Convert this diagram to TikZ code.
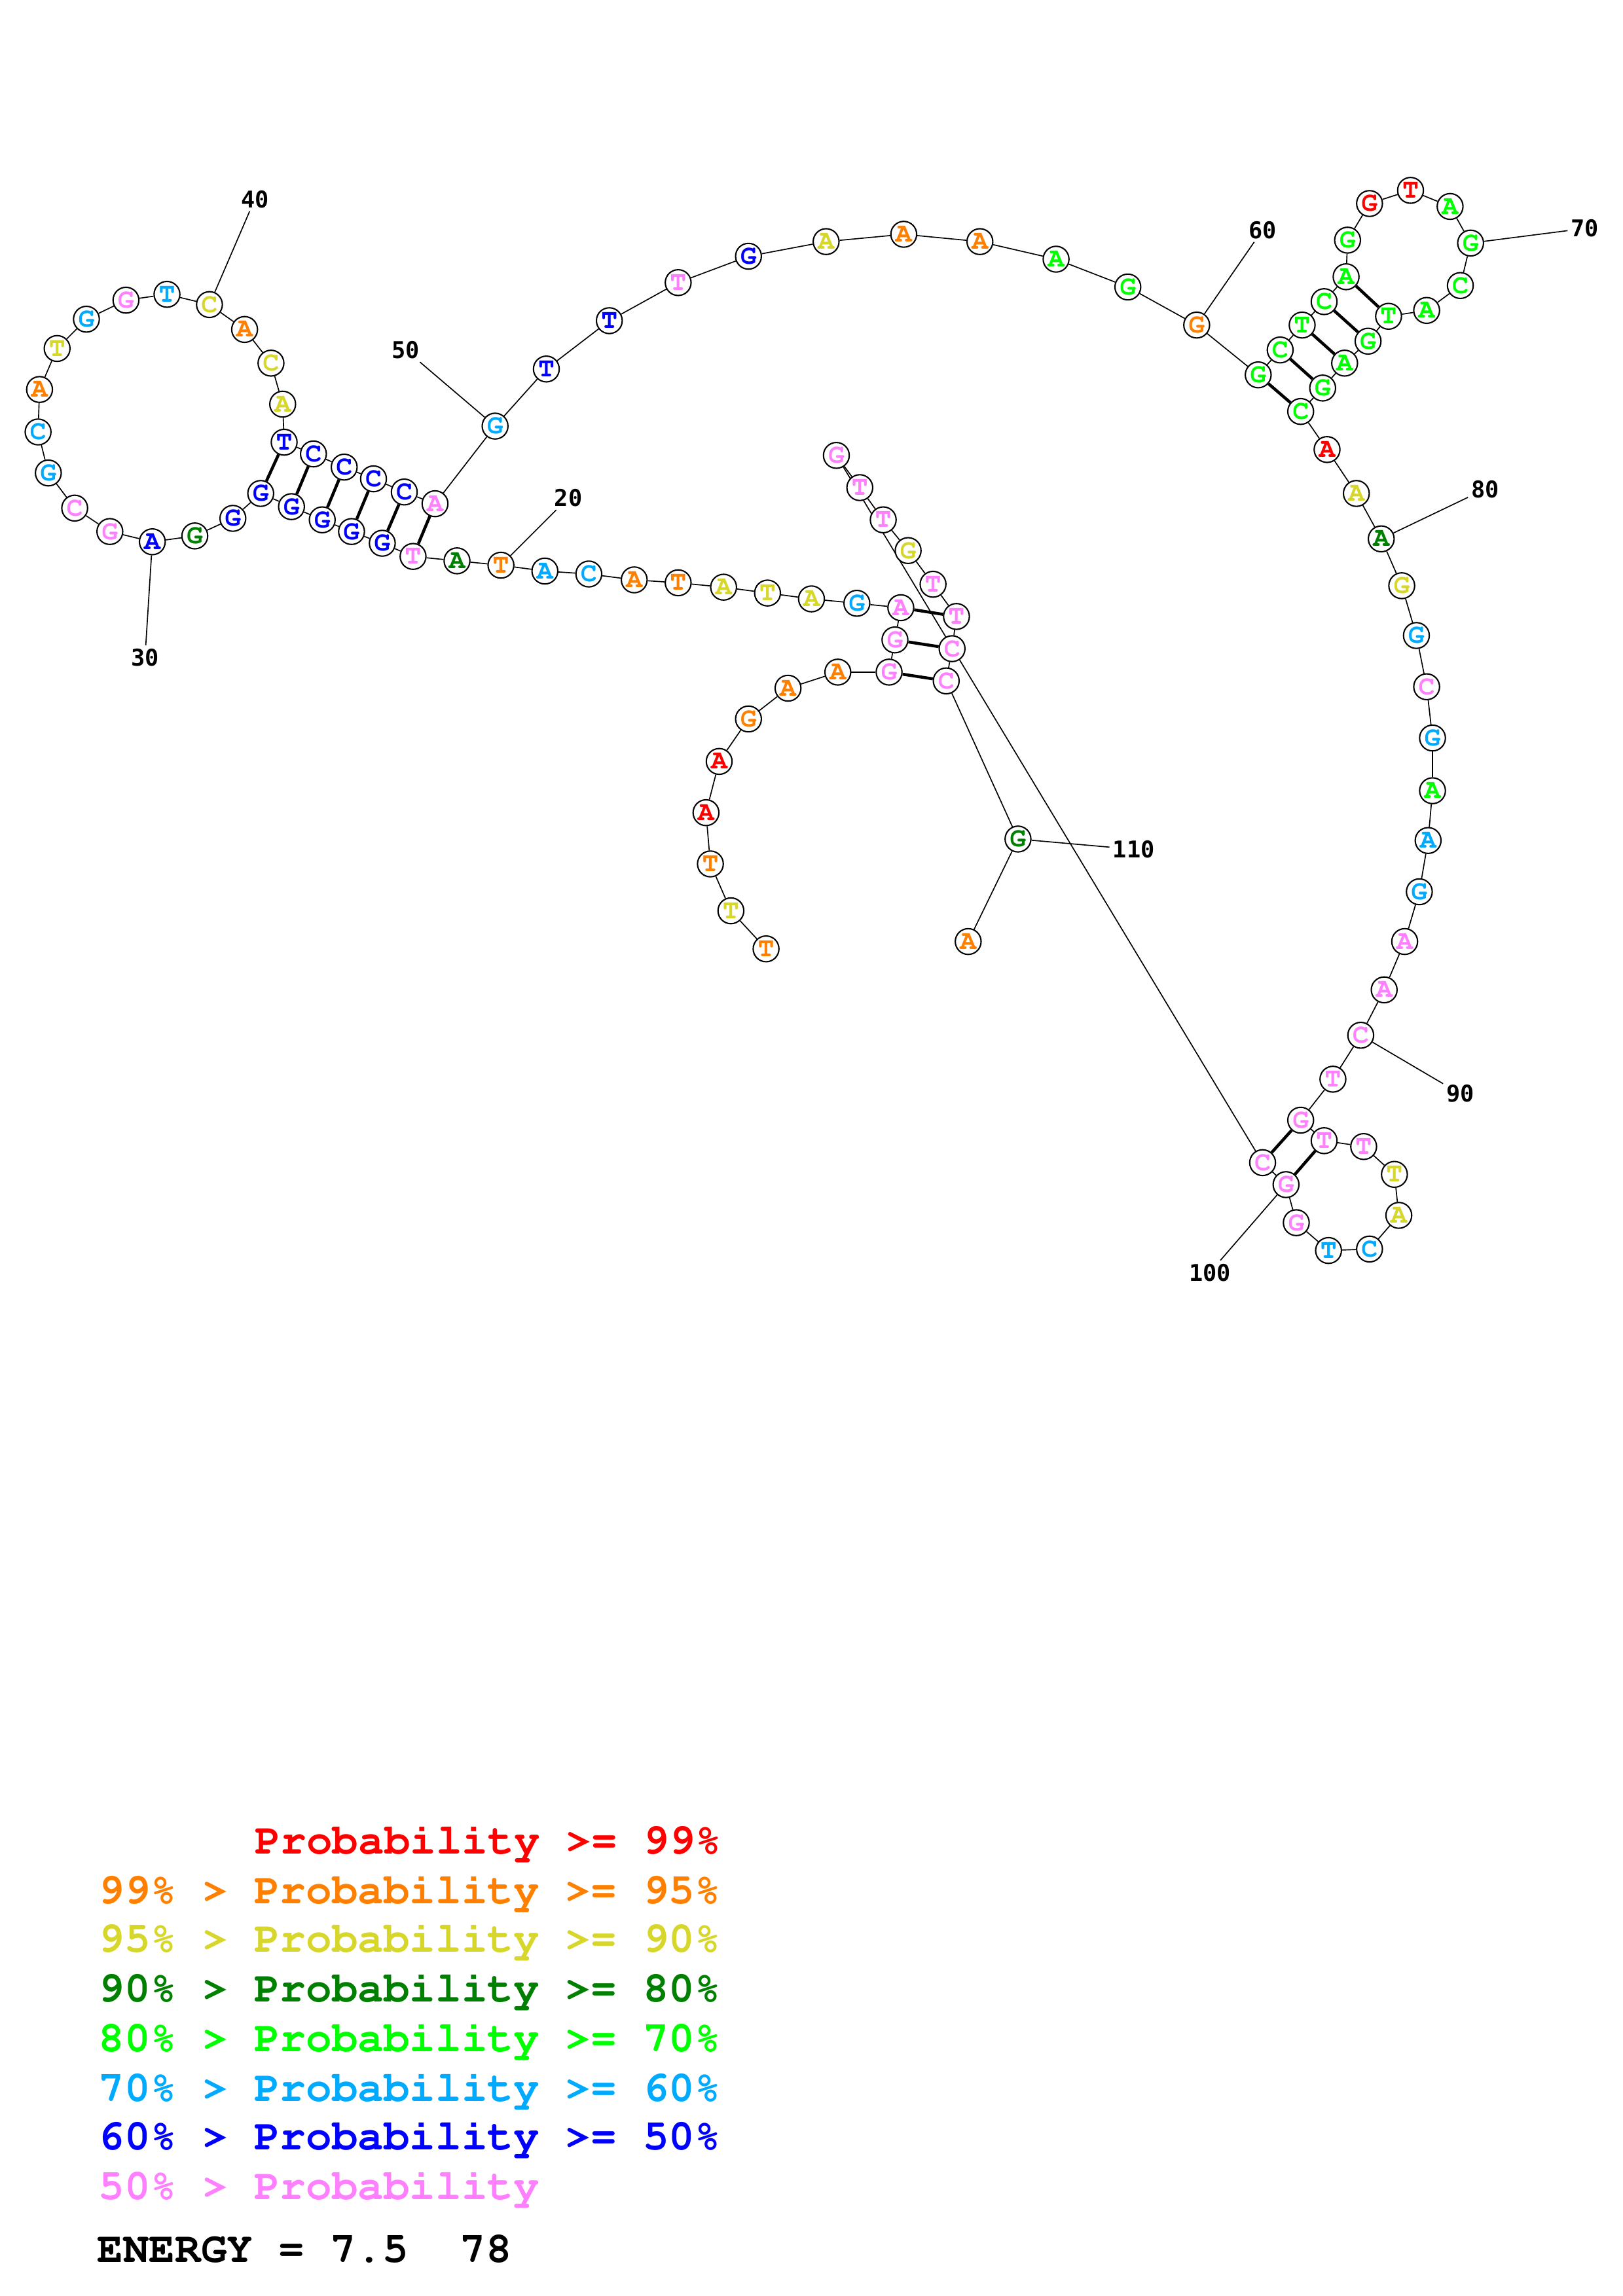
\documentclass[tikz,border=0pt]{standalone}
\usepackage[T1,TU]{fontenc}
\usepackage{fontspec}
\usepackage{tikz}
\usetikzlibrary{backgrounds}
\newfontfamily\numfont{DejaVu Sans Mono}
\newcommand{\courfont}{\fontencoding{T1}\fontfamily{pcr}\fontseries{b}\selectfont}
\definecolor{prob-99}{HTML}{FF0000}
\definecolor{prob-95}{HTML}{FF8000}
\definecolor{prob-90}{HTML}{D6D62B}
\definecolor{prob-80}{HTML}{008000}
\definecolor{prob-70}{HTML}{00FF00}
\definecolor{prob-60}{HTML}{00AAFF}
\definecolor{prob-50}{HTML}{0000FF}
\definecolor{prob-low}{HTML}{FF80FF}

\begin{document}
\begin{tikzpicture}[x=0.018953cm, y=-0.018953cm, line width=0.5pt,
    nuc/.style={draw, circle, fill=white, inner sep=0pt, minimum size=9.5pt,
      font=\fontsize{10}{10}\courfont},
    p99/.style={nuc, text=prob-99},
    p95/.style={nuc, text=prob-95},
    p90/.style={nuc, text=prob-90},
    p80/.style={nuc, text=prob-80},
    p70/.style={nuc, text=prob-70},
    p60/.style={nuc, text=prob-60},
    p50/.style={nuc, text=prob-50},
    plow/.style={nuc, text=prob-low},
    pair/.style={line width=1.1pt},
    tick/.style={inner sep=1pt, font=\numfont\bfseries\fontsize{8.5}{8.5}\selectfont},
    legendrow/.style={anchor=base west, inner sep=0pt,
      font=\fontsize{15.9}{15.9}\courfont}]
    \useasboundingbox (0,0) rectangle (1108,1568);

    \node[p95] (n1) at (523,648) {T};
    \node[p90] (n2) at (499,622) {T};
    \node[p95] (n3) at (485,590) {T};
    \node[p99] (n4) at (482,555) {A};
    \node[p99] (n5) at (491,520) {A};
    \node[p95] (n6) at (511,491) {G};
    \node[p95] (n7) at (538,470) {A};
    \node[p95] (n8) at (572,459) {A};
    \node[plow] (n9) at (607,459) {G};
    \node[plow] (n10) at (611,437) {G};
    \node[plow] (n11) at (615,415) {A};
    \node[p60] (n12) at (585,412) {G};
    \node[p90] (n13) at (554,409) {A};
    \node[p90] (n14) at (524,405) {T};
    \node[p90] (n15) at (494,401) {A};
    \node[p95] (n16) at (463,398) {T};
    \node[p95] (n17) at (433,396) {A};
    \node[p60] (n18) at (402,392) {C};
    \node[p60] (n19) at (372,390) {A};
    \node[p95] (n20) at (342,386) {T};
    \node[p80] (n21) at (312,383) {A};
    \node[plow] (n22) at (282,380) {T};
    \node[p50] (n23) at (261,371) {G};
    \node[p50] (n24) at (240,363) {G};
    \node[p50] (n25) at (220,355) {G};
    \node[p50] (n26) at (199,346) {G};
    \node[p50] (n27) at (178,337) {G};
    \node[p50] (n28) at (159,354) {G};
    \node[p80] (n29) at (133,366) {G};
    \node[p50] (n30) at (104,370) {A};
    \node[plow] (n31) at (75,363) {G};
    \node[plow] (n32) at (51,347) {C};
    \node[p60] (n33) at (33,323) {G};
    \node[p60] (n34) at (26,295) {C};
    \node[p95] (n35) at (27,266) {A};
    \node[p90] (n36) at (39,238) {T};
    \node[p60] (n37) at (59,218) {G};
    \node[plow] (n38) at (86,205) {G};
    \node[p60] (n39) at (114,201) {T};
    \node[p90] (n40) at (143,208) {C};
    \node[p95] (n41) at (167,225) {A};
    \node[p90] (n42) at (185,248) {C};
    \node[p90] (n43) at (193,276) {A};
    \node[p50] (n44) at (194,302) {T};
    \node[p50] (n45) at (214,310) {C};
    \node[p50] (n46) at (235,319) {C};
    \node[p50] (n47) at (255,327) {C};
    \node[p50] (n48) at (276,336) {C};
    \node[plow] (n49) at (297,344) {A};
    \node[p60] (n50) at (338,291) {G};
    \node[p50] (n51) at (373,252) {T};
    \node[p50] (n52) at (416,219) {T};
    \node[plow] (n53) at (463,193) {T};
    \node[p50] (n54) at (511,175) {G};
    \node[p90] (n55) at (564,165) {A};
    \node[p95] (n56) at (617,160) {A};
    \node[p95] (n57) at (669,165) {A};
    \node[p70] (n58) at (721,177) {A};
    \node[p70] (n59) at (770,196) {G};
    \node[p95] (n60) at (817,222) {G};
    \node[p70] (n61) at (859,256) {G};
    \node[p70] (n62) at (874,239) {C};
    \node[p70] (n63) at (889,222) {T};
    \node[p70] (n64) at (904,206) {C};
    \node[p70] (n65) at (919,189) {A};
    \node[p70] (n66) at (920,164) {G};
    \node[p99] (n67) at (935,139) {G};
    \node[p99] (n68) at (963,130) {T};
    \node[p70] (n69) at (990,141) {A};
    \node[p70] (n70) at (1004,166) {G};
    \node[p70] (n71) at (997,195) {C};
    \node[p70] (n72) at (974,212) {A};
    \node[p70] (n73) at (948,216) {T};
    \node[p70] (n74) at (934,233) {G};
    \node[p70] (n75) at (918,248) {A};
    \node[p70] (n76) at (903,265) {G};
    \node[p70] (n77) at (888,281) {C};
    \node[p99] (n78) at (906,307) {A};
    \node[p90] (n79) at (926,337) {A};
    \node[p80] (n80) at (943,368) {A};
    \node[p90] (n81) at (957,400) {G};
    \node[p60] (n82) at (967,434) {G};
    \node[plow] (n83) at (974,469) {C};
    \node[p60] (n84) at (978,504) {G};
    \node[p70] (n85) at (978,540) {A};
    \node[p60] (n86) at (975,574) {A};
    \node[p60] (n87) at (969,609) {G};
    \node[plow] (n88) at (959,643) {A};
    \node[plow] (n89) at (945,676) {A};
    \node[plow] (n90) at (929,707) {C};
    \node[plow] (n91) at (910,737) {T};
    \node[plow] (n92) at (888,765) {G};
    \node[plow] (n93) at (904,779) {T};
    \node[plow] (n94) at (931,783) {T};
    \node[p90] (n95) at (952,802) {T};
    \node[p90] (n96) at (955,830) {A};
    \node[p60] (n97) at (935,853) {C};
    \node[p60] (n98) at (907,854) {T};
    \node[plow] (n99) at (885,835) {G};
    \node[plow] (n100) at (878,809) {G};
    \node[plow] (n101) at (862,794) {C};
    \node[plow] (n102) at (571,311) {G};
    \node[plow] (n103) at (587,333) {T};
    \node[plow] (n104) at (603,355) {T};
    \node[p90] (n105) at (620,376) {G};
    \node[plow] (n106) at (637,399) {T};
    \node[plow] (n107) at (653,421) {T};
    \node[plow] (n108) at (650,443) {C};
    \node[plow] (n109) at (646,465) {C};
    \node[p80] (n110) at (695,573) {G};
    \node[p95] (n111) at (661,643) {A};

    \node[tick] (t20) at (388,340) {20};
    \node[tick] (t30) at (99,449) {30};
    \node[tick] (t40) at (174,136) {40};
    \node[tick] (t50) at (277,239) {50};
    \node[tick] (t60) at (862,157) {60};
    \node[tick] (t70) at (1082,156) {70};
    \node[tick] (t80) at (1014,334) {80};
    \node[tick] (t90) at (997,747) {90};
    \node[tick] (t100) at (826,869) {100};
    \node[tick] (t110) at (774,580) {110};

    \begin{scope}[on background layer]
      \foreach \i [count=\j from 2] in {1,...,110}
        \draw (n\i) -- (n\j);
      \foreach \a/\b in {9/109, 10/108, 11/107, 22/49, 23/48, 24/47, 25/46,
          26/45, 27/44, 61/77, 62/76, 63/75, 64/74, 65/73, 92/101, 93/100}
        \draw[pair] (n\a) -- (n\b);
      \foreach \k in {20,30,...,110}
        \draw (n\k) -- (t\k);
    \end{scope}

    \node[legendrow, text=prob-99] (leg99) at (173.5,1266) {Probability >= 99\%};
    \node[legendrow, text=prob-95] (leg95) at (67,1300) {99\% > Probability >= 95\%};
    \node[legendrow, text=prob-90] (leg90) at (67,1333) {95\% > Probability >= 90\%};
    \node[legendrow, text=prob-80] (leg80) at (67,1367) {90\% > Probability >= 80\%};
    \node[legendrow, text=prob-70] (leg70) at (67,1401) {80\% > Probability >= 70\%};
    \node[legendrow, text=prob-60] (leg60) at (67,1435) {70\% > Probability >= 60\%};
    \node[legendrow, text=prob-50] (leg50) at (67,1468) {60\% > Probability >= 50\%};
    \node[legendrow, text=prob-low] (leglow) at (67,1502) {50\% > Probability};
    \node[legendrow] (energy) at (66,1545) {ENERGY = 7.5~~78};
\end{tikzpicture}
\end{document}
